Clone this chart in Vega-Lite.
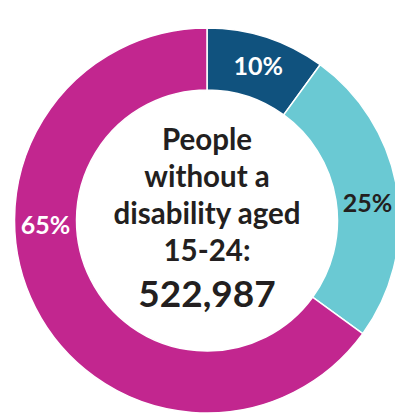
{
  "$schema": "https://vega.github.io/schema/vega-lite/v6.json",
  "width": 414,
  "height": 441,
  "autosize": "none",
  "padding": 0,
  "background": "white",
  "view": {"stroke": null},
  "datasets": {
    "slices": [
      {"group": "A", "idx": 1, "share": 10},
      {"group": "B", "idx": 2, "share": 25},
      {"group": "C", "idx": 3, "share": 65}
    ],
    "labels": [
      {"label": "10%", "angle": 18.5, "dark": false},
      {"label": "25%", "angle": 84, "dark": true},
      {"label": "65%", "angle": 268, "dark": false}
    ],
    "centre": [
      {"title": "People\nwithout a\ndisability aged\n15-24:", "total": "522,987"}
    ]
  },
  "layer": [
    {
      "data": {"name": "slices"},
      "mark": {"type": "arc", "innerRadius": 130.5, "outerRadius": 192.5, "stroke": "white", "strokeWidth": 1.5},
      "encoding": {
        "theta": {"field": "share", "type": "quantitative", "stack": true},
        "order": {"field": "idx", "type": "quantitative"},
        "color": {
          "field": "group",
          "type": "nominal",
          "scale": {"domain": ["A", "B", "C"], "range": ["#10527e", "#6ac9d3", "#c2268f"]},
          "legend": null
        }
      }
    },
    {
      "data": {"name": "labels"},
      "mark": {"type": "text", "radius": 161.5, "font": "Lato", "fontWeight": "bold", "fontSize": 25, "align": "center", "baseline": "middle"},
      "encoding": {
        "theta": {"field": "angle", "type": "quantitative", "stack": null, "scale": {"domain": [0, 360], "range": [0, 6.283185307]}},
        "text": {"field": "label", "type": "nominal"},
        "color": {"condition": {"test": "datum.dark", "value": "#231f20"}, "value": "white"}
      }
    },
    {
      "data": {"name": "centre"},
      "mark": {"type": "text", "font": "Lato", "fontWeight": "bold", "fontSize": 29.5, "lineHeight": 37, "lineBreak": "\n", "align": "center", "baseline": "alphabetic", "dy": -71, "color": "#231f20"},
      "encoding": {"text": {"field": "title", "type": "nominal"}}
    },
    {
      "data": {"name": "centre"},
      "mark": {"type": "text", "font": "Lato", "fontWeight": "bold", "fontSize": 37, "align": "center", "baseline": "alphabetic", "dy": 86, "color": "#231f20"},
      "encoding": {"text": {"field": "total", "type": "nominal"}}
    }
  ],
  "resolve": {"scale": {"theta": "independent"}}
}
